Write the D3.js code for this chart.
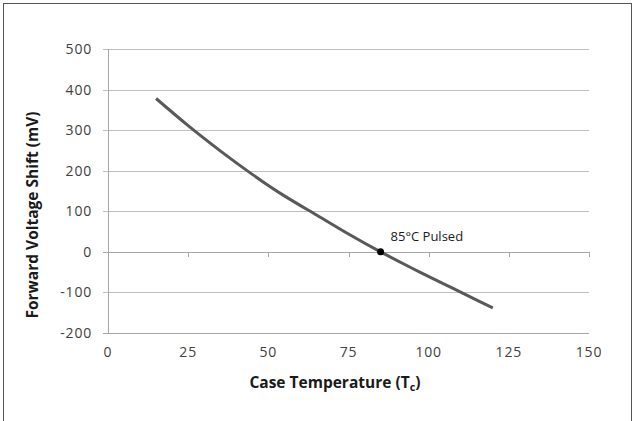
<!DOCTYPE html>
<html><head><meta charset="utf-8">
<script src="https://cdn.jsdelivr.net/npm/d3@7"></script>
<style>body{margin:0;background:#fff}svg{display:block}</style>
</head><body><svg id="c" width="636" height="421"></svg>
<script>
const temps = [15, 25, 35, 45, 55, 65, 75, 85, 95, 105, 115, 120];
const shifts = [378, 311, 249, 191, 138, 91, 44, 0, -41, -80, -119, -138];
const xTicks = [0, 25, 50, 75, 100, 125, 150];
const yTicks = [-200, -100, 0, 100, 200, 300, 400, 500];
const marker = {t: 85, v: 0, label: "85°C Pulsed"};

const svg = d3.select("#c");
svg.append("rect").attr("x",3.5).attr("y",3.5).attr("width",628).attr("height",440)
  .attr("fill","none").attr("stroke","#555").attr("stroke-width",1);

const x = d3.scaleLinear().domain([0,150]).range([108,589]);
const y = d3.scaleLinear().domain([-200,500]).range([333,49]);
const font = "'Open Sans', sans-serif";

// gridlines
svg.append("g").selectAll("line").data(yTicks).join("line")
  .attr("x1",103).attr("x2",589)
  .attr("y1",d=>Math.round(y(d))+0.5).attr("y2",d=>Math.round(y(d))+0.5)
  .attr("stroke",d=>d===0||d===-200?"#a6a6a6":"#bfbfbf").attr("stroke-width",1);
// y axis line
svg.append("line").attr("x1",108.5).attr("x2",108.5).attr("y1",y(500)).attr("y2",y(-200)+0.5)
  .attr("stroke","#a6a6a6");
// x tick marks on zero line
svg.append("g").selectAll("line").data(xTicks.slice(1)).join("line")
  .attr("x1",d=>Math.round(x(d))+0.5).attr("x2",d=>Math.round(x(d))+0.5)
  .attr("y1",Math.round(y(0))).attr("y2",Math.round(y(0))+5)
  .attr("stroke","#a6a6a6");

// y labels
svg.append("g").selectAll("text").data(yTicks).join("text")
  .attr("x",92).attr("y",d=>y(d)+5).attr("text-anchor","end")
  .attr("font-family",font).attr("font-size",14).attr("letter-spacing",0.8).attr("fill","#404040")
  .text(d=>d);
// x labels
svg.append("g").selectAll("text").data(xTicks).join("text")
  .attr("x",d=>x(d)).attr("y",357).attr("text-anchor","middle")
  .attr("font-family",font).attr("font-size",14).attr("letter-spacing",0.8).attr("fill","#404040")
  .text(d=>d);

// titles
const xt = svg.append("text").attr("x",335).attr("y",388).attr("text-anchor","middle")
  .attr("font-family",font).attr("font-size",15.5).attr("font-weight","bold").attr("fill","#1a1a1a");
xt.append("tspan").text("Case Temperature (T");
xt.append("tspan").attr("font-size",11).attr("dy",3).text("c");
xt.append("tspan").attr("dy",-3).text(")");
svg.append("text").attr("transform","translate(38,215) rotate(-90)").attr("text-anchor","middle")
  .attr("font-family",font).attr("font-size",15.5).attr("font-weight","bold").attr("fill","#1a1a1a")
  .text("Forward Voltage Shift (mV)");

// curve
const pts = temps.map((t,i)=>[t,shifts[i]]);
svg.append("path").datum(pts)
  .attr("d", d3.line().x(d=>x(d[0])).y(d=>y(d[1])).curve(d3.curveNatural))
  .attr("fill","none").attr("stroke","#595959").attr("stroke-width",3);

svg.append("circle").attr("cx",x(marker.t)).attr("cy",y(marker.v)).attr("r",3.5).attr("fill","#000");
svg.append("text").attr("x",x(marker.t)+10).attr("y",y(marker.v)-11)
  .attr("font-family",font).attr("font-size",13).attr("fill","#1a1a1a")
  .text(marker.label);
</script></body></html>
